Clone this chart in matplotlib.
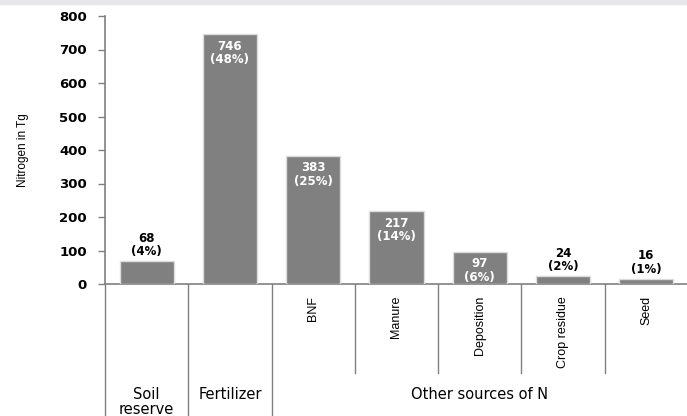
import matplotlib
matplotlib.use("Agg")
import matplotlib.pyplot as plt
from matplotlib import font_manager
from matplotlib.transforms import blended_transform_factory
from matplotlib.patches import Rectangle

categories = ["Soil reserve", "Fertilizer", "BNF", "Manure", "Deposition", "Crop residue", "Seed"]
values = [68, 746, 383, 217, 97, 24, 16]
percents = ["4%", "48%", "25%", "14%", "6%", "2%", "1%"]
rotated_labels = ["BNF", "Manure", "Deposition", "Crop residue", "Seed"]
groups = ["Soil\nreserve", "Fertilizer", "Other sources of N"]
group_spans = [(0, 1), (1, 2), (2, 7)]
yticks = [0, 100, 200, 300, 400, 500, 600, 700, 800]

names = {f.name for f in font_manager.fontManager.ttflist}
narrow = "Liberation Sans Narrow" if "Liberation Sans Narrow" in names else "Liberation Sans"

W, H = 687, 416
fig = plt.figure(figsize=(W / 100, H / 100), dpi=100)
fig.patches.append(Rectangle((0, 412 / H), 1, 4 / H, transform=fig.transFigure,
                             color="#e8e8ea", zorder=0))
ax = fig.add_axes([105 / W, (H - 284) / H, 583 / W, 268 / H])

x = [i + 0.5 for i in range(len(values))]
bars = ax.bar(x, values, width=0.65, color="#808080", edgecolor="#dcdcdc", linewidth=1.0, zorder=3)

for xi, v, p in zip(x, values, percents):
    txt = f"{v}\n({p})"
    if v > 80:
        ax.annotate(txt, (xi, v), xytext=(0, -4), textcoords="offset points",
                    ha="center", va="top", color="white", fontsize=8.5,
                    fontweight="bold", linespacing=1.05, zorder=4)
    else:
        ax.annotate(txt, (xi, v), xytext=(0, 2), textcoords="offset points",
                    ha="center", va="bottom", color="black", fontsize=8.5,
                    fontweight="bold", linespacing=1.05, zorder=4)

ax.set_xlim(0, 7)
ax.set_ylim(0, 800)
ax.set_yticks(yticks)
ax.set_yticklabels([str(t) for t in yticks], fontsize=9.5, fontweight="bold")
ax.tick_params(axis="y", length=5, width=1, color="#808080", pad=8)
ax.set_xticks([])
for s in ["top", "right"]:
    ax.spines[s].set_visible(False)
for s in ["left", "bottom"]:
    ax.spines[s].set_color("#808080")
    ax.spines[s].set_linewidth(1.2)

ax.set_ylabel("Nitrogen in Tg", family=narrow, fontsize=8.5)
ax.yaxis.set_label_coords(-76 / 583, 0.5)

tr = blended_transform_factory(ax.transData, fig.transFigure)
# group boundary lines (full height)
for b in [0, 1, 2]:
    ax.plot([b, b], [0, (H - 284) / H], transform=tr, color="#808080",
            linewidth=1.0, clip_on=False)
# short boundary lines inside "Other sources"
for b in [3, 4, 5, 6]:
    ax.plot([b, b], [(H - 373) / H, (H - 284) / H], transform=tr, color="#808080",
            linewidth=1.0, clip_on=False)

for i, lab in enumerate(rotated_labels):
    ax.text(2.5 + i, (H - 296) / H, lab, transform=tr, rotation=90, ha="center",
            va="top", family=narrow, fontsize=9)

for g, (a, b) in zip(groups, group_spans):
    ax.text((a + b) / 2, (H - 387) / H, g, transform=tr, ha="center", va="top",
            fontsize=10.5, linespacing=1.0)

fig.savefig("out.png", dpi=100)
